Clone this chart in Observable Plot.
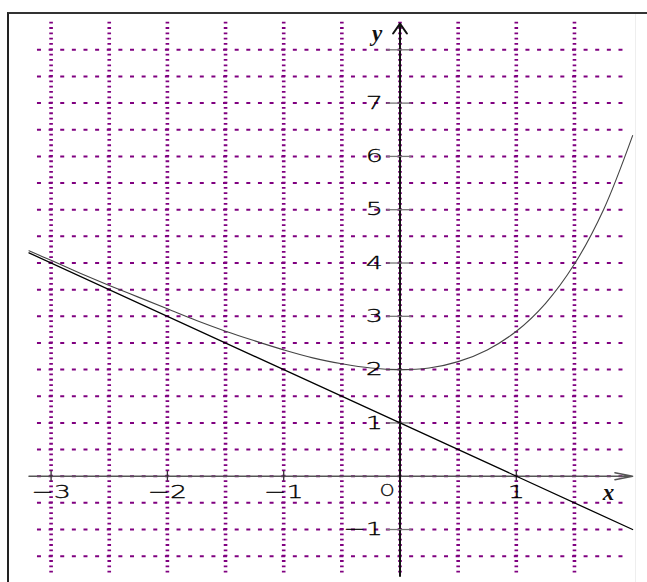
<!DOCTYPE html>
<html>
<head>
<meta charset="utf-8">
<script src="https://cdn.jsdelivr.net/npm/d3@7"></script>
<script src="https://cdn.jsdelivr.net/npm/@observablehq/plot@0.6"></script>
<style>
  html, body { margin: 0; padding: 0; background: #fff; }
  #wrap { position: relative; width: 647px; height: 582px; overflow: hidden; }
  #frame { position: absolute; left: 7px; top: 12px; width: 700px; height: 700px;
           border-left: 2.5px solid #222; border-top: 2px solid #333; pointer-events: none; }
  #rframe { position: absolute; left: 635px; top: 14px; width: 1px; height: 600px; background: #eee; }
</style>
</head>
<body>
<div id="wrap"><div id="rframe"></div><div id="frame"></div></div>
<script>
// ---- data ----
const xDomain = [-3.435, 2.128];
const yDomain = [-1.994, 8.925];

const xGrid = [-3, -2.5, -2, -1.5, -1, -0.5, 0, 0.5, 1, 1.5];
const yGrid = [-1.5, -1, -0.5, 0, 0.5, 1, 1.5, 2, 2.5, 3, 3.5, 4, 4.5, 5, 5.5, 6, 6.5, 7, 7.5, 8];
const hGridExtent = [-3.1, 1.9];   // horizontal dotted lines, x range
const vGridExtent = [8.5, -1.8];   // vertical dotted lines, y range

const xAxisExtent = [-3.19, 2.0];
const yAxisExtent = [-1.87, 8.49];

const xTicks = [-3, -2, -1, 1];
const xTickLabels = ["−3", "−2", "−1", "1"];
const yTicks = [-1, 1, 2, 3, 4, 5, 6, 7, 8];
const yLabelValues = [-1, 1, 2, 3, 4, 5, 6, 7];
const yLabelTexts = ["−1", "1", "2", "3", "4", "5", "6", "7"];

// straight line (asymptote)
const lineX = [-3.19, 2.0];
const lineY = [4.19, -1.0];

// curve
const curveX = [-3.19, -3, -2.75, -2.5, -2.25, -2, -1.75, -1.5, -1.25, -1, -0.75, -0.5, -0.25, 0, 0.25, 0.5, 0.75, 1, 1.25, 1.5, 1.75, 2.0];
const curveY = [4.23, 4.05, 3.81, 3.58, 3.36, 3.14, 2.92, 2.72, 2.54, 2.37, 2.22, 2.11, 2.03, 2.00, 2.03, 2.15, 2.37, 2.72, 3.24, 3.98, 5.00, 6.39];

// ---- build ----
const W = 647, H = 582;
const kx = W / (xDomain[1] - xDomain[0]);
const ky = H / (yDomain[1] - yDomain[0]);
const purple = "#800080";

const curve = curveX.map((x, i) => ({x, y: curveY[i]}));
const line = lineX.map((x, i) => ({x, y: lineY[i]}));
const xLab = xTicks.map((x, i) => ({x, t: xTickLabels[i]}));
const yLab = yLabelValues.map((y, i) => ({y, t: yLabelTexts[i]}));

const hDash = 4, vDash = 1.8;
const labelFont = {fontSize: 18, fontFamily: "DejaVu Sans", fontWeight: 200, fill: "#000", stroke: "#000", strokeWidth: 0.3};

const chart = Plot.plot({
  width: W, height: H,
  margin: 0,
  x: {domain: xDomain, axis: null},
  y: {domain: yDomain, axis: null},
  style: {background: "transparent"},
  marks: [
    // horizontal dotted grid
    Plot.ruleY(yGrid, {
      x1: hGridExtent[0] - (hDash / 2) / kx, x2: hGridExtent[1] + (hDash / 2) / kx,
      stroke: purple, strokeWidth: 2,
      strokeDasharray: `${hDash},${kx / 10 - hDash}`
    }),
    // vertical dotted grid
    Plot.ruleX(xGrid, {
      y1: vGridExtent[0] + (vDash / 2) / ky, y2: vGridExtent[1] - (vDash / 2) / ky,
      stroke: purple, strokeWidth: 3.6,
      strokeDasharray: `${vDash},${ky / 10 - vDash}`
    }),
    // x axis
    Plot.arrow([0], {
      x1: xAxisExtent[0], x2: xAxisExtent[1], y1: 0, y2: 0,
      stroke: "#555", strokeWidth: 1.5, headLength: 18, headAngle: 22
    }),
    // y axis
    Plot.arrow([0], {
      x1: 0, x2: 0, y1: yAxisExtent[0], y2: yAxisExtent[1],
      stroke: "#111", strokeWidth: 2, headLength: 9, headAngle: 70
    }),
    // x ticks
    Plot.ruleX(xTicks, {y1: -5 / ky, y2: 5 / ky, stroke: "#333", strokeWidth: 1.3}),
    // y ticks
    Plot.ruleY(yTicks, {x1: -13 / kx, x2: 12 / kx, stroke: "#777", strokeWidth: 1.3}),
    // curve
    Plot.line(curve, {x: "x", y: "y", curve: "catmull-rom", stroke: "#444", strokeWidth: 1.1}),
    // line
    Plot.line(line, {x: "x", y: "y", stroke: "#000", strokeWidth: 1.3}),
    // tick labels (text marks 0,1,2)
    Plot.text(xLab, {x: "x", y: () => 0, text: "t", dy: 16, ...labelFont}),
    Plot.text(yLab, {x: () => 0, y: "y", text: "t", dx: -17, textAnchor: "end", ...labelFont}),
    Plot.text(["O"], {x: () => 0, y: () => 0, text: d => d, dx: -13, dy: 15, ...labelFont, fontSize: 15}),
    // axis names
    Plot.text(["x"], {x: () => xAxisExtent[1], y: () => 0, text: d => d, dx: -24, dy: 16, fontSize: 23, fontFamily: "Liberation Serif", fontWeight: "bold", fontStyle: "italic", fill: "#111"}),
    Plot.text(["y"], {x: () => 0, y: () => yAxisExtent[1], text: d => d, dx: -23, dy: 10, fontSize: 23, fontFamily: "Liberation Serif", fontWeight: "bold", fontStyle: "italic", fill: "#111"})
  ]
});
// stretch the tick-label glyphs horizontally about their anchor (as in the reference)
const textGroups = chart.querySelectorAll('g[aria-label="text"]');
[[0, 1.5], [1, 1.5], [2, 1.25]].forEach(([k, s]) => {
  const g = textGroups[k];
  if (!g) return;
  g.querySelectorAll("text").forEach(t => {
    const tr = t.getAttribute("transform") || "";
    t.setAttribute("transform", tr + ` scale(${s},1)`);
  });
});
chart.style.position = "absolute";
chart.style.left = "0px";
chart.style.top = "0px";
document.getElementById("wrap").insertBefore(chart, document.getElementById("rframe"));
</script>
</body>
</html>
